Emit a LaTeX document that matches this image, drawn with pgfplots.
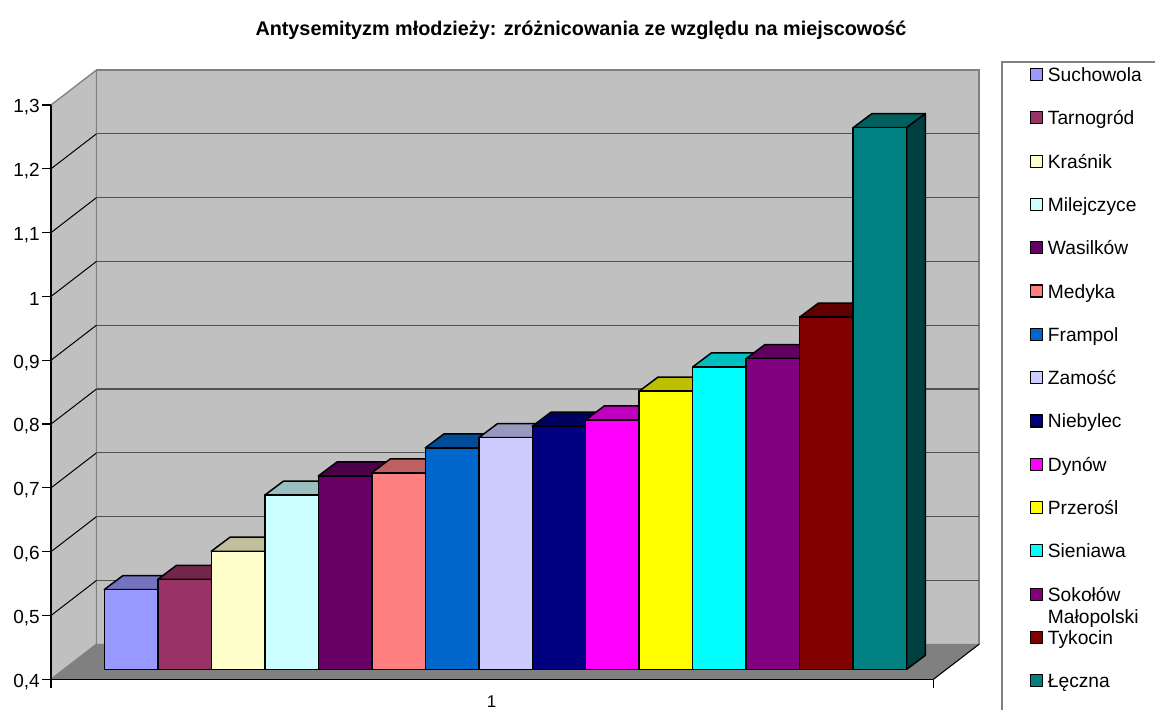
\documentclass[border=0pt]{standalone}
\usepackage{pgfplots}
\usepackage{fontspec}
\setmainfont{Liberation Sans}
\pgfplotsset{compat=1.18}
\definecolor{wall}{HTML}{C0C0C0}
\definecolor{floorc}{HTML}{808080}
\definecolor{gridc}{HTML}{505050}
\definecolor{cA}{HTML}{9999FF}
\definecolor{cB}{HTML}{993366}
\definecolor{cC}{HTML}{FFFFCC}
\definecolor{cD}{HTML}{CCFFFF}
\definecolor{cE}{HTML}{660066}
\definecolor{cF}{HTML}{FF8080}
\definecolor{cG}{HTML}{0066CC}
\definecolor{cH}{HTML}{CCCCFF}
\definecolor{cI}{HTML}{000080}
\definecolor{cJ}{HTML}{FF00FF}
\definecolor{cK}{HTML}{FFFF00}
\definecolor{cL}{HTML}{00FFFF}
\definecolor{cM}{HTML}{800080}
\definecolor{cN}{HTML}{800000}
\definecolor{cO}{HTML}{008080}
\pgfplotsset{
  front/.style={draw=black,fill=#1,line width=1.5pt,line join=round},
  topf/.style={draw=black,fill=#1!75!black,line width=1.5pt,line join=round,forget plot},
  sidef/.style={draw=black,fill=#1!50!black,line width=1.5pt,line join=round,forget plot},
}
\begin{document}
\begin{tikzpicture}[x=1pt,y=1pt]
\path[use as bounding box] (0,0) rectangle (1155,709);
\begin{axis}[
  at={(51pt,29.7pt)},anchor=south west,scale only axis,
  width=882.3pt,height=574.3pt,
  xmin=0,xmax=882.3,ymin=0.4,ymax=1.3,
  clip=false,axis on top,
  axis x line*=bottom,axis y line*=left,
  axis line style={black,line width=1.4pt},
  tick align=outside,major tick length=9pt,
  tick style={black,line width=1.2pt},
  xtick={0,882.3},xticklabels={,},
  extra x ticks={440.5},extra x tick labels={1},
  extra x tick style={major tick length=0pt,
    tick label style={font=\fontsize{17}{20}\selectfont,yshift=-13pt}},
  ytick={0.4,0.5,0.6,0.7,0.8,0.9,1,1.1,1.2,1.3},
  tick label style={font=\fontsize{19}{22}\selectfont},
  yticklabel style={/pgf/number format/use comma,/pgf/number format/assume math mode=true,inner xsep=2pt,yshift=-2.5pt},
  title={\bfseries Antysemityzm młodzieży: zróżnicowania ze względu na miejscowość},
  title style={font=\fontsize{19.8}{23}\selectfont,at={(0.6007,1.1323)},anchor=center,yshift=-7pt},
]
\addplot[draw=floorc,fill=wall,line width=1.3pt] coordinates {(0,0.4)(45.5,0.4549)(45.5,1.3549)(0,1.3)} --cycle;
\addplot[draw=floorc,fill=wall,line width=1.3pt] coordinates {(45.5,0.4549)(928,0.4549)(928,1.3549)(45.5,1.3549)} --cycle;
\addplot[draw=floorc,fill=floorc,line width=1pt] coordinates {(0,0.4)(882.3,0.4)(928,0.4549)(45.5,0.4549)} --cycle;
\addplot[gridc,line width=1.2pt] coordinates {(45.5,0.5549)(928,0.5549)};
\addplot[gridc,line width=1.2pt] coordinates {(45.5,0.6549)(928,0.6549)};
\addplot[gridc,line width=1.2pt] coordinates {(45.5,0.7549)(928,0.7549)};
\addplot[gridc,line width=1.2pt] coordinates {(45.5,0.8549)(928,0.8549)};
\addplot[gridc,line width=1.2pt] coordinates {(45.5,0.9549)(928,0.9549)};
\addplot[gridc,line width=1.2pt] coordinates {(45.5,1.0549)(928,1.0549)};
\addplot[gridc,line width=1.2pt] coordinates {(45.5,1.1549)(928,1.1549)};
\addplot[gridc,line width=1.2pt] coordinates {(45.5,1.2549)(928,1.2549)};
\addplot[black,line width=1pt] coordinates {(0,0.5)(45.5,0.5549)};
\addplot[black,line width=1pt] coordinates {(0,0.6)(45.5,0.6549)};
\addplot[black,line width=1pt] coordinates {(0,0.7)(45.5,0.7549)};
\addplot[black,line width=1pt] coordinates {(0,0.8)(45.5,0.8549)};
\addplot[black,line width=1pt] coordinates {(0,0.9)(45.5,0.9549)};
\addplot[black,line width=1pt] coordinates {(0,1)(45.5,1.0549)};
\addplot[black,line width=1pt] coordinates {(0,1.1)(45.5,1.1549)};
\addplot[black,line width=1pt] coordinates {(0,1.2)(45.5,1.2549)};
\addplot[black,line width=1pt] coordinates {(882.3,0.4)(928,0.4549)};
% legend frame
\addplot[floorc,line width=1.4pt] coordinates {(951,0.3)(951,1.3675)(1110,1.3675)};
\end{axis}
\begin{axis}[
  at={(104.3pt,39.7pt)},anchor=south west,scale only axis,
  width=802.4pt,height=574.2pt,
  xmin=0,xmax=15,ymin=0.4,ymax=1.3,
  clip=false,hide axis,
  legend cell align=left,
  legend image code/.code={\draw[#1,line width=1.2pt] (0.5pt,-6pt) rectangle (12.5pt,6pt);},
  legend style={
    at={(1.1533,1.048)},anchor=north west,draw=none,fill=none,
    inner sep=0pt,outer sep=0pt,row sep=29.3pt,column sep=5pt,
    nodes={inner sep=0pt,outer sep=0pt,text height=14pt,text depth=0pt},
    font=\fontsize{19.2}{22}\selectfont},
]
\addplot[topf=cA] coordinates {(0,0.525)(1,0.525)(1.35,0.547)(0.35,0.547)} --cycle;
\addplot[front=cA] coordinates {(0,0.4)(1,0.4)(1,0.525)(0,0.525)} --cycle;
\addplot[topf=cB] coordinates {(1,0.541)(2,0.541)(2.35,0.563)(1.35,0.563)} --cycle;
\addplot[front=cB] coordinates {(1,0.4)(2,0.4)(2,0.541)(1,0.541)} --cycle;
\addplot[topf=cC] coordinates {(2,0.585)(3,0.585)(3.35,0.607)(2.35,0.607)} --cycle;
\addplot[front=cC] coordinates {(2,0.4)(3,0.4)(3,0.585)(2,0.585)} --cycle;
\addplot[topf=cD] coordinates {(3,0.673)(4,0.673)(4.35,0.695)(3.35,0.695)} --cycle;
\addplot[front=cD] coordinates {(3,0.4)(4,0.4)(4,0.673)(3,0.673)} --cycle;
\addplot[topf=cE] coordinates {(4,0.703)(5,0.703)(5.35,0.725)(4.35,0.725)} --cycle;
\addplot[front=cE] coordinates {(4,0.4)(5,0.4)(5,0.703)(4,0.703)} --cycle;
\addplot[topf=cF] coordinates {(5,0.708)(6,0.708)(6.35,0.730)(5.35,0.730)} --cycle;
\addplot[front=cF] coordinates {(5,0.4)(6,0.4)(6,0.708)(5,0.708)} --cycle;
\addplot[topf=cG] coordinates {(6,0.747)(7,0.747)(7.35,0.769)(6.35,0.769)} --cycle;
\addplot[front=cG] coordinates {(6,0.4)(7,0.4)(7,0.747)(6,0.747)} --cycle;
\addplot[topf=cH] coordinates {(7,0.763)(8,0.763)(8.35,0.785)(7.35,0.785)} --cycle;
\addplot[front=cH] coordinates {(7,0.4)(8,0.4)(8,0.763)(7,0.763)} --cycle;
\addplot[topf=cI] coordinates {(8,0.781)(9,0.781)(9.35,0.803)(8.35,0.803)} --cycle;
\addplot[front=cI] coordinates {(8,0.4)(9,0.4)(9,0.781)(8,0.781)} --cycle;
\addplot[topf=cJ] coordinates {(9,0.791)(10,0.791)(10.35,0.813)(9.35,0.813)} --cycle;
\addplot[front=cJ] coordinates {(9,0.4)(10,0.4)(10,0.791)(9,0.791)} --cycle;
\addplot[topf=cK] coordinates {(10,0.836)(11,0.836)(11.35,0.858)(10.35,0.858)} --cycle;
\addplot[front=cK] coordinates {(10,0.4)(11,0.4)(11,0.836)(10,0.836)} --cycle;
\addplot[topf=cL] coordinates {(11,0.874)(12,0.874)(12.35,0.896)(11.35,0.896)} --cycle;
\addplot[front=cL] coordinates {(11,0.4)(12,0.4)(12,0.874)(11,0.874)} --cycle;
\addplot[topf=cM] coordinates {(12,0.887)(13,0.887)(13.35,0.909)(12.35,0.909)} --cycle;
\addplot[front=cM] coordinates {(12,0.4)(13,0.4)(13,0.887)(12,0.887)} --cycle;
\addplot[topf=cN] coordinates {(13,0.952)(14,0.952)(14.35,0.974)(13.35,0.974)} --cycle;
\addplot[front=cN] coordinates {(13,0.4)(14,0.4)(14,0.952)(13,0.952)} --cycle;
\addplot[topf=cO] coordinates {(14,1.249)(15,1.249)(15.35,1.271)(14.35,1.271)} --cycle;
\addplot[sidef=cO] coordinates {(15,0.4)(15.35,0.422)(15.35,1.271)(15,1.249)} --cycle;
\addplot[front=cO] coordinates {(14,0.4)(15,0.4)(15,1.249)(14,1.249)} --cycle;
\legend{Suchowola,Tarnogród,Kraśnik,Milejczyce,Wasilków,Medyka,Frampol,Zamość,Niebylec,Dynów,Przerośl,Sieniawa,{\rlap{\raisebox{-22.7pt}{Małopolski}}Sokołów},Tykocin,Łęczna}
\end{axis}
\end{tikzpicture}
\end{document}
